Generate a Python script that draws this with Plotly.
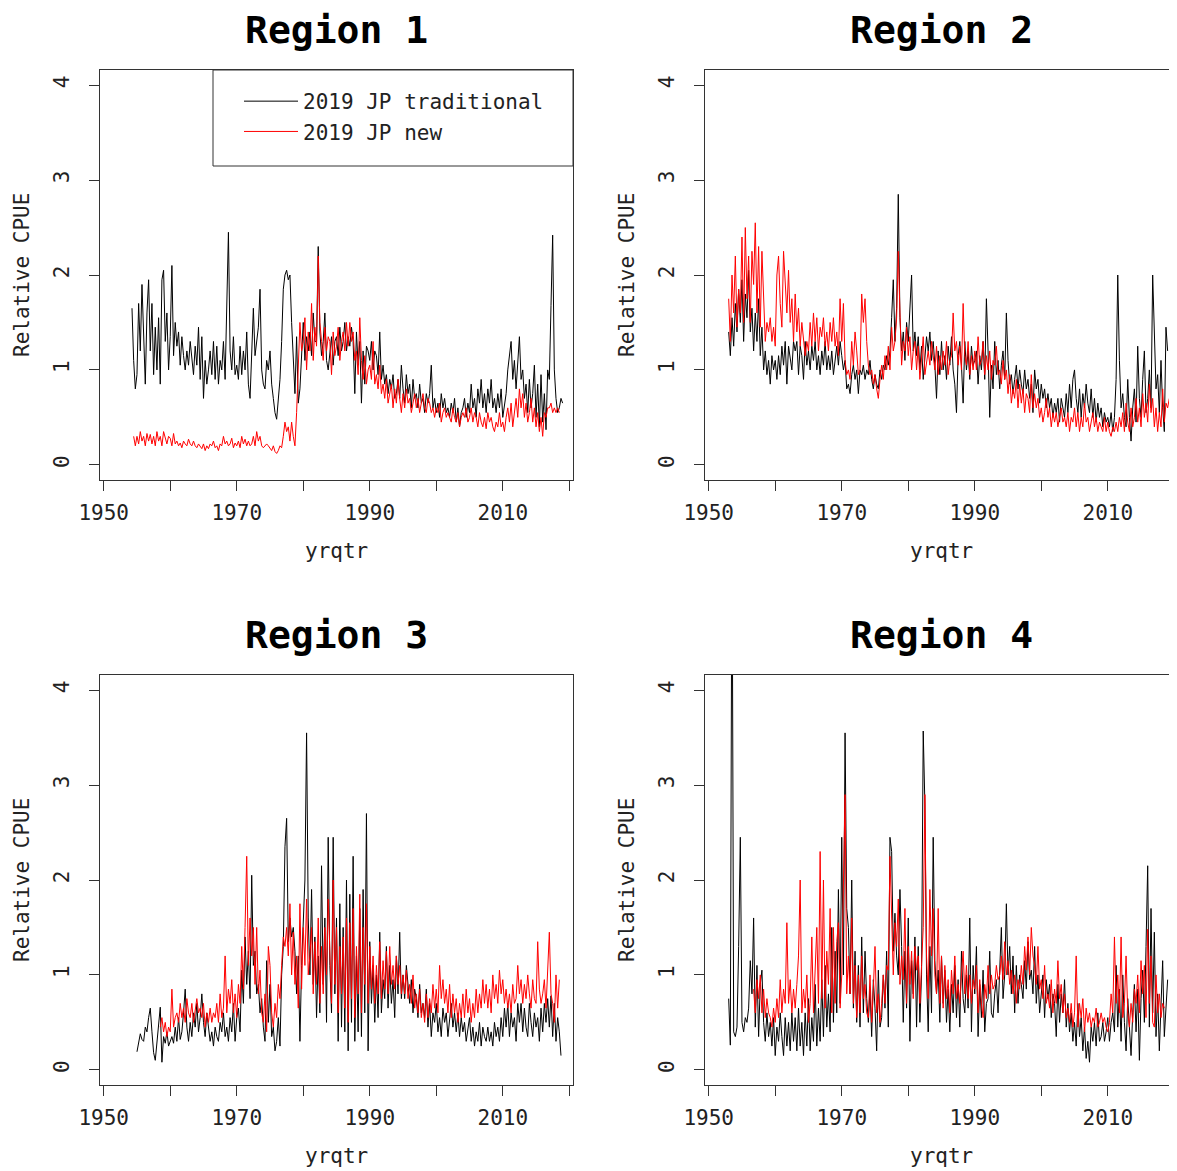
import numpy as np
import plotly.graph_objects as go

# ---------------- data (quarterly relative CPUE) ----------------
regions = ["Region 1", "Region 2", "Region 3", "Region 4"]
series_names = ["2019 JP traditional", "2019 JP new"]

r1_trad_start = 1954.25
r1_trad = [
    1.65, 1.1, 0.8,
    0.95, 1.7, 1.2, 1.9,
    1.3, 0.85, 1.6, 1.95,
    1.2, 1.7, 0.95, 1.45,
    1.0, 1.55, 0.85, 1.95,
    2.05, 1.3, 1.6, 1.0,
    1.35, 2.1, 1.15, 1.5,
    1.25, 1.4, 1.05, 1.35,
    1.15, 1.0, 1.2, 1.05,
    1.3, 1.1, 0.95, 1.25,
    1.05, 1.45, 0.9, 1.35,
    0.7, 1.1, 0.85, 1.0,
    1.2, 0.95, 1.3, 0.9,
    1.25, 0.85, 1.1, 1.0,
    1.3, 0.9, 1.6, 2.45,
    1.2, 1.0, 1.35, 0.95,
    1.05, 0.9, 1.25, 0.95,
    1.2, 1.0, 1.4, 0.85,
    0.7, 1.1, 1.65, 1.15,
    1.3, 1.45, 1.85, 1.0,
    0.85, 0.8, 1.1, 1.0,
    1.2, 0.85, 0.7, 0.55,
    0.48, 0.75, 0.9, 1.3,
    1.85, 2.0, 2.05, 1.95,
    2.0, 1.5, 1.1, 0.75,
    1.35, 0.65, 0.8, 1.2,
    1.5, 1.1, 1.35, 1.2,
    1.4, 1.15, 1.6, 1.3,
    1.3, 2.3, 1.4, 1.15,
    1.3, 1.6, 1.1, 1.0,
    1.2, 1.35, 1.05, 1.3,
    1.35, 1.15, 1.45, 1.2,
    1.3, 1.5, 1.2, 1.35,
    1.25, 1.45, 1.3, 0.75,
    1.4, 1.05, 1.3, 0.65,
    1.2, 0.85, 1.25, 1.2,
    1.1, 1.3, 1.0, 1.2,
    1.15, 0.95, 1.4, 0.9,
    1.05, 0.85, 0.95, 0.75,
    0.9, 0.8, 0.95, 0.7,
    0.75, 0.9, 0.7, 1.05,
    0.8, 0.65, 0.95, 0.75,
    0.85, 0.6, 0.9, 0.7,
    0.75, 0.6, 0.85, 0.65,
    0.7, 0.55, 0.75, 0.65,
    0.75, 1.05, 0.6, 0.7,
    0.55, 0.65, 0.5, 0.75,
    0.6, 0.7, 0.55, 0.6,
    0.5, 0.65, 0.55, 0.7,
    0.45, 0.6, 0.4, 0.55,
    0.6, 0.7, 0.5, 0.65,
    0.55, 0.85, 0.6, 0.7,
    0.5, 0.8, 0.65, 0.9,
    0.6, 0.75, 0.55, 0.8,
    0.65, 0.9, 0.6, 0.7,
    0.55, 0.75, 0.6, 0.8,
    0.5, 0.65, 0.75, 1.0,
    1.15, 1.3, 0.9, 1.1,
    0.8, 1.05, 1.35, 0.9,
    1.0, 0.7, 0.85, 0.55,
    0.9, 0.6, 0.75, 1.05,
    0.5, 0.85, 0.4, 0.95,
    0.45, 0.75, 0.37, 1.0,
    0.9, 1.68, 2.42, 1.0,
    0.7, 0.55, 0.6, 0.7,
    0.65,
]

r1_new_start = 1954.5
r1_new = [
    0.3, 0.2,
    0.3, 0.22, 0.35, 0.25,
    0.3, 0.2, 0.33, 0.25,
    0.32, 0.22, 0.3, 0.2,
    0.35, 0.25, 0.3, 0.2,
    0.35, 0.28, 0.22, 0.3,
    0.28, 0.2, 0.33, 0.22,
    0.25, 0.2, 0.23, 0.18,
    0.25, 0.22, 0.2, 0.27,
    0.22, 0.2, 0.25, 0.2,
    0.18, 0.22, 0.2, 0.17,
    0.22, 0.15, 0.2, 0.17,
    0.22, 0.2, 0.25, 0.18,
    0.2, 0.15, 0.22, 0.2,
    0.3, 0.22, 0.25, 0.2,
    0.22, 0.28, 0.18, 0.23,
    0.2, 0.25, 0.18, 0.3,
    0.22, 0.27, 0.2, 0.25,
    0.2, 0.22, 0.3, 0.2,
    0.35, 0.25, 0.3, 0.2,
    0.18, 0.2, 0.22, 0.2,
    0.18, 0.15, 0.2, 0.14,
    0.12, 0.15, 0.2, 0.18,
    0.3, 0.45, 0.35, 0.4,
    0.25, 0.45, 0.3, 0.2,
    0.55, 1.0, 1.5, 1.2,
    1.3, 1.55, 1.0, 1.4,
    1.2, 1.7, 1.1, 1.45,
    1.25, 2.2, 1.5, 1.3,
    1.1, 1.45, 1.2, 1.35,
    1.3, 0.95, 1.4, 1.15,
    1.25, 1.45, 1.1, 1.3,
    1.4, 1.2, 1.5, 1.25,
    1.5, 1.3, 1.4, 1.1,
    1.2, 0.95, 1.55, 1.1,
    0.9, 1.15, 0.85, 1.0,
    1.05, 0.9, 1.3, 0.85,
    0.95, 0.8, 1.05, 0.75,
    0.85, 0.7, 0.9, 0.65,
    0.75, 0.85, 0.6, 0.8,
    0.65, 0.9, 0.7, 0.55,
    0.75, 0.6, 0.8, 0.65,
    0.7, 0.55, 0.65, 0.75,
    0.6, 0.7, 0.55, 0.65,
    0.75, 0.6, 0.55, 0.7,
    0.65, 0.55, 0.6, 0.5,
    0.6, 0.55, 0.65, 0.45,
    0.55, 0.6, 0.5, 0.55,
    0.5, 0.45, 0.6, 0.5,
    0.45, 0.55, 0.4, 0.5,
    0.55, 0.5, 0.6, 0.45,
    0.5, 0.6, 0.45, 0.55,
    0.5, 0.4, 0.55, 0.45,
    0.4, 0.5, 0.38, 0.55,
    0.45, 0.5, 0.4, 0.35,
    0.45, 0.4, 0.55, 0.4,
    0.45, 0.35, 0.5, 0.6,
    0.45, 0.65, 0.4, 0.55,
    0.7, 0.5, 0.8, 0.6,
    0.75, 0.5, 0.65, 0.45,
    0.55, 0.7, 0.45, 0.6,
    0.4, 0.55, 0.35, 0.5,
    0.3, 0.55, 0.5, 0.6,
    0.6, 0.65, 0.55, 0.6,
    0.55, 0.6, 0.55,
]

r2_trad_start = 1953.0
r2_trad = [
    1.4, 1.15, 1.55, 1.25,
    1.7, 1.4, 1.85, 1.5,
    1.95, 1.3, 1.8, 1.55,
    2.05, 1.4, 1.65, 1.2,
    1.6, 1.3, 1.75, 1.15,
    1.45, 1.0, 1.2, 0.95,
    1.1, 0.85, 1.15, 1.0,
    1.1, 0.9, 1.15, 0.95,
    1.25, 1.05, 1.3, 0.85,
    1.25, 1.1, 1.0, 1.3,
    1.2, 1.3, 0.95, 1.25,
    1.15, 0.9, 1.3, 1.05,
    1.2, 1.0, 1.25, 1.1,
    1.3, 1.0, 1.15, 0.95,
    1.2, 1.05, 1.3, 1.0,
    1.15, 1.0, 1.2, 0.95,
    1.1, 1.25, 1.05, 1.3,
    1.15, 1.0, 1.1, 0.8,
    0.85, 0.75, 0.95, 1.05,
    0.9, 1.0, 0.75, 1.0,
    0.95, 1.05, 0.9, 1.0,
    0.95, 1.1, 0.9, 0.8,
    0.95, 0.85, 0.8, 1.0,
    0.9, 1.05, 1.0, 1.15,
    1.05, 1.2, 1.55, 1.95,
    1.3, 1.65, 2.85, 1.55,
    1.2, 1.4, 1.1, 1.5,
    1.3, 1.6, 2.0, 1.2,
    1.4, 1.15, 1.35, 1.0,
    1.25, 0.9, 1.1, 1.35,
    1.2, 1.4, 1.1, 1.3,
    1.05, 0.7, 1.2, 0.95,
    1.3, 1.0, 1.15, 0.9,
    1.25, 1.05, 1.35, 1.0,
    0.85, 0.55, 1.15, 1.3,
    1.05, 0.65, 1.3, 1.0,
    1.2, 0.9, 1.25, 1.05,
    1.1, 1.2, 0.85, 1.15,
    1.0, 1.3, 0.9, 1.75,
    1.2, 0.5, 1.05, 0.8,
    1.3, 0.95, 1.1, 0.8,
    1.05, 1.2, 0.9, 1.6,
    1.1, 0.85, 0.95, 0.75,
    0.9, 1.05, 0.8, 1.0,
    0.85, 0.75, 1.0, 0.8,
    0.9, 0.7, 0.85, 0.55,
    1.0, 0.8, 0.9, 0.65,
    0.85, 0.7, 0.8, 0.6,
    0.75, 0.6, 0.7, 0.5,
    0.65, 0.55, 0.7, 0.45,
    0.7, 0.6, 0.5, 0.75,
    0.55, 0.85, 0.6, 0.9,
    1.0, 0.7, 0.55, 0.8,
    0.5, 0.75, 0.6, 0.85,
    0.65, 0.55, 0.8, 0.5,
    0.7, 0.45, 0.65, 0.5,
    0.6, 0.4, 0.55, 0.45,
    0.5, 0.4, 0.55, 0.35,
    0.5, 0.9, 2.0, 1.1,
    0.6, 0.75, 0.5, 0.4,
    0.9, 0.5, 0.25, 0.6,
    0.8, 0.45, 1.25, 0.7,
    0.5, 0.9, 1.2, 0.55,
    0.7, 1.0, 0.6, 2.0,
    1.35, 0.8, 0.95, 0.55,
    1.1, 0.6, 0.35, 1.45,
    1.2,
]

r2_new_start = 1953.0
r2_new = [
    1.75, 1.3, 2.0, 1.6,
    2.2, 1.45, 1.85, 1.6,
    2.4, 1.5, 2.5, 1.75,
    2.2, 1.5, 2.25, 1.9,
    2.55, 1.6, 2.3, 1.45,
    2.25, 1.8, 1.3, 1.5,
    1.4, 1.55, 1.3, 1.45,
    1.25, 2.0, 2.2, 1.7,
    1.45, 2.25, 1.85, 1.6,
    2.05, 1.5, 1.75, 1.3,
    1.8, 1.4, 1.65, 1.25,
    1.5, 1.35, 1.15, 1.3,
    1.2, 1.5, 1.25, 1.6,
    1.3, 1.55, 1.2, 1.45,
    1.35, 1.55, 1.25, 1.4,
    1.2, 1.5, 1.3, 1.55,
    1.25, 1.4, 1.15, 1.75,
    1.3, 1.7, 1.1, 0.95,
    1.0, 0.9, 1.3, 1.05,
    1.4, 1.2, 0.95, 1.0,
    1.8, 1.5, 1.75, 1.3,
    1.05, 0.95, 1.0, 0.85,
    0.95, 0.8, 0.7, 0.9,
    1.05, 0.9, 1.15, 1.0,
    1.25, 1.0, 1.45, 1.2,
    1.3, 1.55, 2.25, 1.6,
    1.05, 1.3, 1.2, 1.45,
    1.15, 1.35, 1.0, 1.2,
    1.3, 1.0, 1.25, 0.9,
    1.15, 1.35, 0.95, 1.1,
    1.2, 1.05, 1.3, 1.15,
    1.0, 1.25, 0.95, 1.15,
    1.0, 1.2, 1.05, 1.3,
    0.95, 1.1, 1.15, 1.6,
    1.2, 1.3, 1.05, 1.25,
    1.0, 1.7, 1.15, 1.05,
    1.3, 0.95, 1.15, 1.0,
    1.2, 1.0, 1.35, 1.05,
    1.1, 1.3, 0.95, 1.15,
    1.0, 1.2, 0.9, 1.1,
    1.05, 1.25, 0.95, 1.0,
    0.85, 1.1, 0.9, 1.0,
    0.75, 0.95, 0.65, 0.8,
    0.7, 0.9, 0.6, 0.85,
    0.65, 0.8, 0.55, 0.75,
    0.7, 0.55, 0.95, 0.6,
    0.75, 0.6, 0.7, 0.5,
    0.6, 0.45, 0.55, 0.7,
    0.5, 0.6, 0.4, 0.55,
    0.45, 0.55, 0.4, 0.5,
    0.6, 0.45, 0.5, 0.4,
    0.55, 0.35, 0.5, 0.45,
    0.6, 0.4, 0.55, 0.35,
    0.5, 0.4, 0.65, 0.45,
    0.5, 0.35, 0.45, 0.55,
    0.4, 0.5, 0.35, 0.45,
    0.4, 0.35, 0.5, 0.35,
    0.45, 0.35, 0.3, 0.4,
    0.35, 0.45, 0.35, 0.5,
    0.4, 0.55, 0.35, 0.65,
    0.45, 0.35, 0.6, 0.4,
    0.5, 0.7, 0.45, 0.6,
    0.4, 0.75, 0.5, 0.65,
    0.45, 0.85, 0.55, 0.7,
    0.4, 0.6, 0.35, 0.55,
    0.4, 0.8, 0.45, 0.65,
    0.6, 0.7,
]

r3_trad_start = 1955.0
r3_trad = [
    0.19, 0.3, 0.38, 0.32,
    0.3, 0.45, 0.4, 0.55,
    0.65, 0.4, 0.18, 0.1,
    0.3, 0.5, 0.66, 0.08,
    0.35, 0.28, 0.4, 0.25,
    0.3, 0.35, 0.28, 0.45,
    0.3, 0.55, 0.32, 0.4,
    0.6, 0.85, 0.45, 0.3,
    0.5, 0.35, 0.6, 0.45,
    0.7, 0.4, 0.55, 0.8,
    0.5, 0.35, 0.6, 0.45,
    0.3, 0.4, 0.25, 0.45,
    0.35, 0.3, 0.5, 0.4,
    0.6, 0.35, 0.45, 0.3,
    0.55, 0.4, 0.7, 0.3,
    0.55, 0.65, 0.4, 1.05,
    0.7, 1.4, 0.9, 1.25,
    0.75, 2.05, 1.1, 1.25,
    0.8, 0.9, 0.6, 0.75,
    0.45, 0.3, 1.15, 0.5,
    0.9, 0.35, 0.45, 0.2,
    0.3, 0.55, 0.25, 1.0,
    1.3, 2.35, 2.65, 1.35,
    1.6, 1.4, 1.5, 1.25,
    0.8, 1.2, 0.3, 1.1,
    1.5, 2.0, 3.55, 1.6,
    1.0, 1.9, 0.9, 1.4,
    0.55, 1.2, 0.6, 2.15,
    0.9, 1.6, 0.5, 2.45,
    1.1, 0.6, 2.45, 0.8,
    1.6, 0.3, 1.75, 0.45,
    1.5, 0.4, 2.0, 0.2,
    1.85, 0.5, 2.25, 0.3,
    1.2, 0.4, 1.7, 0.35,
    1.9, 0.6, 2.7, 0.2,
    1.35, 0.7, 1.1, 0.5,
    1.0, 0.55, 1.45, 0.6,
    0.95, 0.75, 1.3, 0.65,
    1.1, 0.7, 0.95, 0.55,
    1.2, 0.8, 1.45, 0.75,
    1.0, 0.75, 1.1, 0.85,
    0.7, 0.95, 0.6, 0.85,
    0.75, 0.55, 0.9, 0.6,
    0.7, 0.55, 0.85, 0.45,
    0.7, 0.35, 0.6, 0.5,
    0.7, 0.4, 0.55, 0.35,
    0.65, 0.5, 0.6, 0.35,
    0.55, 0.7, 0.45, 0.6,
    0.4, 0.6, 0.35, 0.55,
    0.4, 0.5, 0.3, 0.45,
    0.55, 0.3, 0.45, 0.25,
    0.4, 0.3, 0.5, 0.25,
    0.45, 0.35, 0.3, 0.45,
    0.3, 0.4, 0.25, 0.5,
    0.35, 0.45, 0.3, 0.55,
    0.35, 0.65, 0.45, 0.7,
    0.35, 0.6, 0.45, 0.55,
    0.3, 0.7, 0.5, 0.7,
    0.4, 0.65, 0.45, 0.35,
    0.7, 0.5, 0.35, 0.6,
    0.45, 0.55, 0.3, 0.65,
    0.4, 0.7, 0.5, 0.75,
    0.45, 0.78, 0.35, 0.7,
    0.3, 0.55, 0.4, 0.15,
]

r3_new_start = 1958.5
r3_new = [
    0.45, 0.55,
    0.4, 0.5, 0.35, 0.45,
    0.4, 0.85, 0.45, 0.55,
    0.6, 0.5, 0.7, 0.55,
    0.65, 0.5, 0.75, 0.6,
    0.55, 0.7, 0.5, 0.65,
    0.75, 0.6, 0.65, 0.55,
    0.7, 0.45, 0.6, 0.5,
    0.65, 0.5, 0.6, 0.55,
    0.7, 0.5, 0.8, 0.55,
    0.65, 1.2, 0.6, 0.85,
    0.7, 0.95, 0.6, 0.8,
    0.55, 0.9, 0.7, 1.3,
    0.85, 1.5, 2.25, 1.1,
    1.6, 1.2, 1.5, 0.9,
    1.5, 0.8, 1.05, 0.6,
    0.5, 0.8, 0.4, 1.3,
    1.1, 0.6, 0.45, 0.7,
    0.55, 0.9, 0.75, 1.1,
    1.4, 1.3, 1.5, 1.2,
    1.75, 1.0, 1.45, 0.9,
    1.2, 0.65, 1.75, 0.85,
    1.5, 1.1, 1.8, 1.0,
    1.2, 1.5, 0.8, 1.35,
    0.9, 1.6, 0.7, 1.3,
    0.8, 1.5, 1.0, 1.8,
    1.2, 0.7, 2.0, 0.9,
    1.5, 0.6, 1.3, 0.8,
    1.4, 0.65, 1.6, 0.5,
    1.55, 0.75, 1.7, 0.55,
    1.3, 0.8, 1.85, 0.6,
    1.5, 0.9, 1.75, 0.7,
    1.3, 0.85, 1.2, 0.7,
    1.1, 0.8, 1.35, 0.75,
    1.15, 0.85, 1.25, 0.8,
    1.3, 0.9, 1.1, 0.85,
    1.2, 0.9, 1.1, 0.8,
    1.0, 0.8, 1.05, 0.75,
    0.9, 0.7, 1.0, 0.65,
    0.8, 0.6, 0.85, 0.55,
    0.7, 0.5, 0.8, 0.55,
    0.75, 0.6, 0.9, 0.65,
    0.85, 0.6, 1.1, 0.75,
    0.95, 0.7, 0.85, 0.6,
    0.9, 0.55, 0.8, 0.6,
    0.75, 0.5, 0.7, 0.55,
    0.8, 0.55, 0.85, 0.6,
    0.75, 0.5, 0.7, 0.55,
    0.85, 0.6, 0.8, 0.65,
    0.95, 0.7, 0.9, 0.65,
    0.85, 0.6, 1.0, 0.75,
    0.9, 0.7, 1.05, 0.8,
    0.95, 0.7, 0.85, 0.65,
    0.8, 0.6, 0.9, 0.7,
    0.75, 1.1, 0.8, 0.95,
    0.7, 0.9, 0.75, 1.0,
    0.8, 0.65, 0.95, 0.75,
    0.7, 1.35, 0.85, 0.7,
    0.8, 0.95, 0.65, 1.0,
    1.45, 0.8, 0.7, 0.5,
    1.0, 0.65, 0.95,
]

r4_trad_start = 1953.0
r4_trad = [
    0.75, 0.26, 6.0, 0.4,
    0.35, 0.45, 1.3, 2.45,
    0.5, 0.4, 0.55, 0.5,
    0.65, 1.15, 0.8, 1.6,
    0.45, 1.1, 0.35, 0.9,
    1.05, 0.5, 0.3, 0.6,
    0.35, 0.5, 0.25, 0.55,
    0.15, 0.45, 0.3, 0.6,
    0.35, 0.15, 0.55, 0.25,
    0.5, 0.2, 0.6, 0.3,
    0.55, 0.2, 0.65, 0.25,
    0.5, 0.15, 0.6, 0.25,
    0.75, 0.2, 0.55, 0.3,
    0.9, 0.25, 0.65, 0.3,
    0.95, 0.35, 1.1, 0.45,
    0.8, 0.4, 1.5, 0.5,
    1.25, 0.6, 1.9, 0.7,
    2.45, 1.0, 3.55, 1.7,
    1.5, 0.8, 2.0, 0.65,
    1.25, 0.5, 1.1, 0.45,
    1.4, 0.6, 1.25, 0.75,
    0.5, 0.85, 0.35, 0.95,
    0.65, 0.2, 1.05, 0.45,
    0.55, 1.0, 0.65, 1.25,
    0.45, 2.45, 2.3, 1.25,
    1.65, 1.2, 1.0, 1.9,
    1.3, 0.5, 1.25, 0.65,
    1.6, 0.3, 1.15, 0.8,
    1.4, 0.45, 1.3, 0.5,
    1.0, 3.57, 2.8, 1.0,
    0.4, 1.3, 0.6, 2.45,
    1.15, 0.8, 1.05, 0.5,
    1.2, 0.7, 1.05, 0.5,
    0.85, 0.4, 0.9, 0.6,
    1.1, 0.55, 0.95, 0.45,
    1.25, 0.75, 0.6, 1.0,
    0.65, 1.6, 0.4, 1.1,
    0.8, 1.3, 0.35, 0.9,
    0.55, 1.05, 0.4, 0.7,
    0.75, 1.25, 0.6, 0.55,
    0.8, 0.95, 0.6, 1.05,
    1.5, 0.75, 1.0, 1.75,
    1.0, 1.3, 0.8, 1.2,
    0.6, 1.1, 0.7, 1.0,
    0.9, 0.75, 1.15, 0.85,
    1.35, 0.95, 1.05, 0.8,
    1.3, 0.7, 1.0, 0.6,
    0.85, 1.0, 0.55, 0.95,
    0.75, 0.9, 0.55, 0.8,
    0.7, 0.35, 0.9, 0.5,
    0.8, 0.6, 0.95, 0.45,
    0.7, 0.4, 0.6, 0.3,
    0.5, 0.25, 0.7, 0.35,
    0.55, 0.2, 0.45, 0.12,
    0.3, 0.08, 0.45, 0.3,
    0.5, 0.25, 0.6, 0.3,
    0.35, 0.5, 0.3, 0.4,
    0.55, 0.3, 0.5, 0.6,
    0.4, 1.1, 0.45, 0.85,
    0.3, 1.0, 0.5, 0.2,
    0.75, 0.45, 0.15, 0.6,
    0.9, 0.4, 0.85, 0.1,
    0.75, 1.05, 0.5, 1.3,
    2.15, 0.45, 1.7, 0.6,
    1.45, 0.35, 0.8, 0.2,
    0.65, 1.15, 0.35, 0.7,
    0.95,
]

r4_new_start = 1956.75
r4_new = [
    0.85,
    0.6, 0.95, 0.75, 1.0,
    0.6, 0.85, 0.55, 0.75,
    0.6, 0.55, 0.45, 0.65,
    0.5, 0.75, 0.55, 0.95,
    0.6, 0.85, 0.7, 1.55,
    0.7, 0.95, 0.6, 0.85,
    0.65, 0.9, 1.2, 2.0,
    0.6, 0.85, 0.65, 1.0,
    0.5, 0.7, 1.4, 0.6,
    1.0, 1.5, 0.7, 2.3,
    0.75, 2.0, 0.65, 1.25,
    0.9, 1.7, 0.6, 1.5,
    0.7, 1.35, 1.55, 0.65,
    1.0, 2.1, 2.9, 0.8,
    1.2, 0.8, 1.6, 0.7,
    1.1, 0.55, 1.0, 0.6,
    1.2, 0.75, 0.9, 0.6,
    0.55, 1.0, 0.5, 0.85,
    1.3, 0.6, 0.8, 0.5,
    0.7, 1.0, 0.7, 1.1,
    1.05, 2.25, 1.6, 1.0,
    1.55, 1.3, 1.8, 0.9,
    1.2, 0.95, 1.7, 0.7,
    1.3, 0.9, 1.25, 0.75,
    1.3, 1.05, 1.2, 0.7,
    1.1, 1.5, 2.9, 1.2,
    0.75, 1.9, 1.2, 1.7,
    1.0, 0.8, 1.7, 0.7,
    1.2, 0.65, 1.1, 0.75,
    0.95, 0.6, 1.05, 0.8,
    1.2, 0.75, 0.9, 0.7,
    1.0, 1.25, 0.8, 1.1,
    0.75, 1.0, 0.7, 0.95,
    0.85, 1.1, 0.6, 0.95,
    0.7, 0.55, 0.9, 0.75,
    1.1, 0.8, 1.0, 0.85,
    0.9, 1.1, 0.95, 1.0,
    1.2, 0.95, 1.35, 1.0,
    1.15, 0.9, 1.05, 0.8,
    1.0, 0.7, 0.95, 0.85,
    1.1, 0.9, 1.3, 1.05,
    1.4, 1.0, 1.5, 1.2,
    1.1, 0.9, 1.3, 0.85,
    0.95, 0.75, 1.1, 0.7,
    0.8, 0.65, 0.95, 0.6,
    0.85, 0.7, 1.15, 0.75,
    0.9, 0.6, 0.8, 0.55,
    0.65, 0.5, 0.7, 0.45,
    0.6, 1.2, 0.45, 0.7,
    0.55, 0.75, 0.4, 0.65,
    0.5, 0.6, 0.45, 0.55,
    0.5, 0.65, 0.45, 0.5,
    0.6, 0.5, 0.55, 0.45,
    0.4, 0.5, 0.8, 0.6,
    1.4, 0.7, 1.0, 0.6,
    1.4, 0.55, 0.7, 1.2,
    0.6, 0.45, 0.7, 0.5,
    0.85, 0.7, 1.0, 0.6,
    1.15, 0.8, 1.1, 0.55,
    1.48, 0.7, 1.2, 0.5,
    0.45, 1.0, 0.6, 0.8,
    0.55, 0.7, 0.65,
]

panel_data = [
    ((r1_trad_start, r1_trad), (r1_new_start, r1_new)),
    ((r2_trad_start, r2_trad), (r2_new_start, r2_new)),
    ((r3_trad_start, r3_trad), (r3_new_start, r3_new)),
    ((r4_trad_start, r4_trad), (r4_new_start, r4_new)),
]

x_tick_vals = [1950, 1960, 1970, 1980, 1990, 2000, 2010, 2020]
x_tick_text = ["1950", "", "1970", "", "1990", "", "2010", ""]
y_tick_vals = [0, 1, 2, 3, 4]
line_colors = ["black", "red"]

# ---------------- layout (pixel geometry of the reference) ----------------
W, H = 1177, 1171
OFF = 8  # page body margin: figure origin sits 8px right/down in the screenshot
FONT = "DejaVu Sans Mono"
# (left, right, top, bottom) of each panel box, in screenshot pixels
boxes = [(100, 573, 70, 480), (705, 1178, 70, 480),
         (100, 573, 675, 1085), (705, 1178, 675, 1085)]
PX_PER_YEAR = 6.651
X0 = 1949.44


def fx(p):
    return (p - OFF) / W


def fy(p):
    return 1 - (p - OFF) / H


fig = go.Figure()
annotations = []
shapes = []

for k, (name, series, box) in enumerate(zip(regions, panel_data, boxes)):
    l, r, t, b = box
    ax = "" if k == 0 else str(k + 1)
    right_col = (k % 2 == 1)
    for j, (start, vals) in enumerate(series):
        x = start + 0.25 * np.arange(len(vals))
        fig.add_trace(go.Scatter(
            x=x, y=vals, mode="lines",
            line=dict(color=line_colors[j], width=1),
            name=series_names[j], showlegend=(k == 0),
            xaxis="x" + ax, yaxis="y" + ax,
        ))
    xr = [X0, X0 + (r - l) / PX_PER_YEAR]
    axis_common = dict(
        showline=True, linecolor="#333", linewidth=1,
        ticks="outside", ticklen=10, tickcolor="#333", tickwidth=1,
        showgrid=False, zeroline=False, automargin=False,
        tickfont=dict(family=FONT, size=21, color="#222"),
    )
    fig.update_layout({
        "xaxis" + ax: dict(
            domain=[fx(l), min(fx(r), 1.0)], range=xr, anchor="y" + ax,
            tickvals=x_tick_vals, ticktext=x_tick_text, mirror=True,
            ticklabelstandoff=4, **axis_common),
        "yaxis" + ax: dict(
            domain=[fy(b), fy(t)], range=[-0.16, 4.16], anchor="x" + ax,
            tickvals=y_tick_vals, tickangle=-90, ticklabelstandoff=12,
            mirror=(not right_col), **axis_common),
    })
    cx = (l + l + 473) / 2
    cy = (t + b) / 2
    annotations.append(dict(
        text="<b>%s</b>" % name, x=fx(cx), y=fy(t - 40),
        xref="paper", yref="paper", showarrow=False, xanchor="center", yanchor="middle",
        font=dict(family=FONT, size=38, color="black")))
    annotations.append(dict(
        text="yrqtr", x=fx(cx), y=fy(b + 71),
        xref="paper", yref="paper", showarrow=False, xanchor="center", yanchor="middle",
        font=dict(family=FONT, size=21, color="#222")))
    annotations.append(dict(
        text="Relative CPUE", x=fx(l - 78), y=fy(cy), textangle=-90,
        xref="paper", yref="paper", showarrow=False, xanchor="center", yanchor="middle",
        font=dict(family=FONT, size=21, color="#222")))

# legend frame (region 1, top right corner)
shapes.append(dict(type="rect", xref="paper", yref="paper",
                   x0=fx(213), x1=fx(573), y0=fy(166), y1=fy(70),
                   line=dict(color="#333", width=1), fillcolor="rgba(0,0,0,0)"))

fig.update_layout(
    width=W, height=H,
    margin=dict(l=0, r=0, t=0, b=0),
    paper_bgcolor="white", plot_bgcolor="white",
    annotations=annotations, shapes=shapes,
    showlegend=True,
    legend=dict(x=fx(239), y=fy(81), xanchor="left", yanchor="top",
                bgcolor="rgba(0,0,0,0)", borderwidth=0, itemwidth=54,
                font=dict(family=FONT, size=21, color="#222"),
                tracegroupgap=0),
)

fig.write_html("out.html")
